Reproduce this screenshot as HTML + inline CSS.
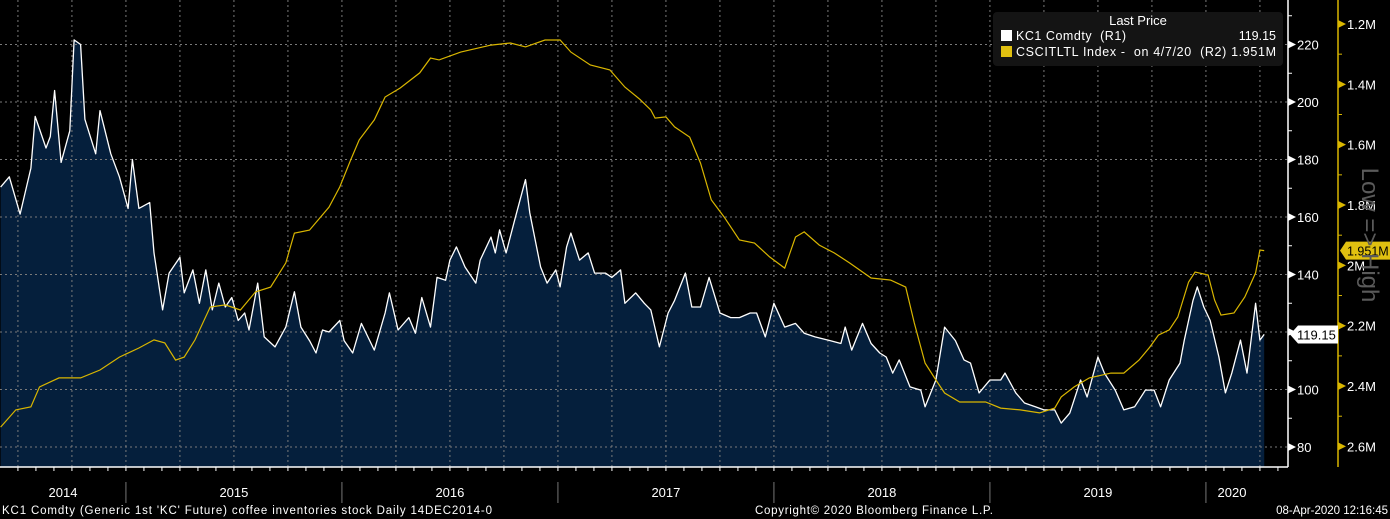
<!DOCTYPE html>
<html><head><meta charset="utf-8">
<style>
html,body{margin:0;padding:0;background:#000;width:1390px;height:519px;overflow:hidden}
svg{display:block;font-family:"Liberation Sans",sans-serif}
</style></head>
<body>
<svg id="chart" width="1390" height="519" xmlns="http://www.w3.org/2000/svg">
<rect x="0" y="0" width="1390" height="519" fill="#000"/>
<g id="grid"></g>
<g id="series"></g>
<g id="axes"></g>
<g id="legend">
 <rect x="993" y="12" width="290" height="54" rx="4" fill="#141414"/>
 <text x="1138" y="25" fill="#fff" font-size="13" text-anchor="middle">Last Price</text>
 <rect x="1001" y="30" width="11" height="11" fill="#fff"/>
 <text x="1016" y="40" fill="#fff" font-size="12.5" xml:space="preserve" textLength="110">KC1 Comdty  (R1)</text>
 <text x="1276" y="40" fill="#fff" font-size="12.5" text-anchor="end">119.15</text>
 <rect x="1001" y="46" width="11" height="11" fill="#e0c010"/>
 <text x="1016" y="56" fill="#fff" font-size="12.5" xml:space="preserve" textLength="260">CSCITLTL Index -  on 4/7/20  (R2) 1.951M</text>
</g>
<text x="0" y="0" transform="translate(1362,235) rotate(90)" fill="#5a5a5a" font-size="24" text-anchor="middle">Low =&gt; High</text>
<g id="footer">
 <text x="2" y="514" fill="#fff" font-size="11.5" textLength="490">KC1 Comdty (Generic 1st 'KC' Future) coffee inventories stock  Daily 14DEC2014-0</text>
 <text x="755" y="514" fill="#fff" font-size="11.5" textLength="238">Copyright© 2020 Bloomberg Finance L.P.</text>
 <text x="1388" y="514" fill="#fff" font-size="11.5" text-anchor="end">08-Apr-2020 12:16:45</text>
</g>
</svg>
<script>
// KC1 Comdty price (R1), dates as decimal years
const kcDates=[2014.42,2014.46,2014.51,2014.56,2014.58,2014.63,2014.65,2014.67,2014.70,2014.74,2014.76,2014.79,2014.81,2014.86,2014.88,2014.93,2014.97,2015.01,2015.03,2015.06,2015.11,2015.13,2015.17,2015.20,2015.25,2015.27,2015.31,2015.34,2015.37,2015.40,2015.43,2015.46,2015.49,2015.52,2015.55,2015.57,2015.61,2015.64,2015.69,2015.74,2015.78,2015.81,2015.85,2015.88,2015.91,2015.94,2015.99,2016.01,2016.05,2016.09,2016.15,2016.20,2016.22,2016.26,2016.31,2016.34,2016.37,2016.41,2016.44,2016.48,2016.50,2016.53,2016.57,2016.62,2016.64,2016.69,2016.71,2016.73,2016.76,2016.80,2016.85,2016.87,2016.92,2016.95,2016.99,2017.01,2017.04,2017.06,2017.10,2017.14,2017.17,2017.22,2017.25,2017.29,2017.31,2017.36,2017.40,2017.43,2017.47,2017.51,2017.54,2017.59,2017.62,2017.66,2017.70,2017.75,2017.80,2017.84,2017.89,2017.92,2017.96,2018.00,2018.05,2018.10,2018.14,2018.19,2018.26,2018.31,2018.33,2018.36,2018.41,2018.45,2018.49,2018.52,2018.55,2018.58,2018.63,2018.68,2018.70,2018.75,2018.79,2018.84,2018.88,2018.91,2018.95,2019.00,2019.05,2019.07,2019.12,2019.16,2019.21,2019.25,2019.30,2019.33,2019.37,2019.42,2019.45,2019.50,2019.53,2019.58,2019.62,2019.67,2019.72,2019.76,2019.79,2019.83,2019.88,2019.90,2019.94,2019.96,2019.99,2020.02,2020.06,2020.09,2020.12,2020.16,2020.19,2020.23,2020.25,2020.27];
const kcValues=[170.4,174,161,177,195,184,188,204,179,190,221.6,220,194,182,197,182,174,163,180,163,165,147.5,127.7,140.5,146,133.6,141.6,130,141.6,127.7,137,128.7,132,124,126.6,120.7,137,118.3,114.8,121.7,134,121.7,117,112.7,120.7,120,124,117,112.7,123,113.7,126.6,133.6,120.7,125,119.6,132,121.7,139,138,145,149.6,142.6,137,145,153,147.5,155.5,147.5,159,173,161.4,142.6,137,141.6,135.7,149.6,154.4,145,147.5,140.5,140.5,139,141.6,130,133.6,130,127.7,114.8,126.6,131,140.5,128.7,128.7,139,126.6,125,125,126.6,126.6,118.3,130,121.7,123,119.6,118.3,117,116,121.7,113.7,123,116,112.7,111.3,105.7,110.3,100.9,99.8,94,103.3,121.7,117,110.3,109.2,98.8,103.3,103.3,105.7,98.8,95.3,94,92.9,92.9,88.3,91.8,103.3,97.4,111.3,105.7,99.8,92.9,94,99.8,99.8,94,103.3,109.2,117.2,131,135.7,128.7,124,111.3,98.8,105.7,117.2,105.7,130,117.2,119.15];
// CSCITLTL coffee inventories (R2, millions, inverted axis)
const invDates=[2014.42,2014.49,2014.56,2014.60,2014.69,2014.79,2014.88,2014.97,2015.06,2015.13,2015.18,2015.23,2015.27,2015.32,2015.39,2015.46,2015.53,2015.60,2015.67,2015.74,2015.78,2015.85,2015.94,2015.99,2016.04,2016.08,2016.15,2016.20,2016.27,2016.36,2016.41,2016.45,2016.55,2016.69,2016.78,2016.85,2016.94,2017.01,2017.06,2017.15,2017.24,2017.31,2017.38,2017.43,2017.45,2017.50,2017.54,2017.61,2017.66,2017.71,2017.77,2017.84,2017.91,2017.98,2018.05,2018.10,2018.14,2018.21,2018.28,2018.35,2018.45,2018.54,2018.61,2018.65,2018.70,2018.75,2018.79,2018.86,2018.98,2019.05,2019.14,2019.23,2019.30,2019.33,2019.39,2019.46,2019.56,2019.62,2019.69,2019.74,2019.78,2019.83,2019.87,2019.92,2019.95,2020.01,2020.04,2020.07,2020.13,2020.18,2020.23,2020.25,2020.27];
const invValues=[2.536,2.479,2.469,2.403,2.373,2.373,2.347,2.304,2.274,2.247,2.257,2.314,2.304,2.247,2.138,2.131,2.148,2.088,2.072,1.992,1.893,1.883,1.807,1.740,1.651,1.584,1.518,1.442,1.412,1.362,1.313,1.319,1.293,1.270,1.263,1.276,1.253,1.253,1.293,1.336,1.352,1.409,1.45,1.485,1.512,1.508,1.541,1.575,1.661,1.783,1.840,1.916,1.926,1.972,2.009,1.906,1.889,1.933,1.959,1.992,2.042,2.049,2.072,2.191,2.324,2.380,2.423,2.453,2.453,2.473,2.479,2.489,2.473,2.436,2.403,2.373,2.357,2.357,2.314,2.271,2.231,2.214,2.171,2.055,2.022,2.032,2.115,2.165,2.158,2.105,2.025,1.949,1.951];
const r1Ticks=[80,100,120,140,160,180,200,220];
const r2Ticks=[1.2,1.4,1.6,1.8,2.0,2.2,2.4,2.6];
const r2Labels=["1.2M","1.4M","1.6M","1.8M","2M","2.2M","2.4M","2.6M"];
const yearLabels=["2014","2015","2016","2017","2018","2019","2020"];
const yearStarts=[2014,2015,2016,2017,2018,2019,2020];

const NS="http://www.w3.org/2000/svg";
const PX_PER_YEAR=216, X_ORIGIN_T=2014.417, PLOT_R=1288, PLOT_B=467;
const xs=t=>(t-X_ORIGIN_T)*PX_PER_YEAR;
const y1=v=>447-(v-80)*2.875;
const y2=m=>24+(m-1.2)*301.7;
function mk(tag,attrs,parent){const e=document.createElementNS(NS,tag);for(const k in attrs)e.setAttribute(k,attrs[k]);parent.appendChild(e);return e;}
const grid=document.getElementById('grid'),ser=document.getElementById('series'),ax=document.getElementById('axes');

let pts=kcDates.map((d,i)=>xs(d).toFixed(1)+","+y1(kcValues[i]).toFixed(1));
const area=mk('path',{d:"M"+xs(kcDates[0])+","+PLOT_B+" L"+pts.join(" L")+" L"+xs(kcDates[kcDates.length-1])+","+PLOT_B+" Z",fill:"#051f3c"},ser);



for(let q=2014.5;q<2020.3;q+=0.25){const x=xs(q);const l=mk('line',{x1:x,y1:0,x2:x,y2:PLOT_B,stroke:"#7a7a7a","stroke-width":1,"stroke-dasharray":"2,3"},ser);

}
r1Ticks.forEach(v=>{const l=mk('line',{x1:0,y1:y1(v),x2:PLOT_R,y2:y1(v),stroke:"#7a7a7a","stroke-width":1,"stroke-dasharray":"2,3"},ser);

});

const kcLine=mk('polyline',{points:pts.join(" "),fill:"none",stroke:"#fff","stroke-width":1.3,"stroke-linejoin":"round"},ser);


const invPts=invDates.map((d,i)=>xs(d).toFixed(1)+","+y2(invValues[i]).toFixed(1));
const invLine=mk('polyline',{points:invPts.join(" "),fill:"none",stroke:"#d9b600","stroke-width":1.2},ser);



mk('line',{x1:PLOT_R,y1:0,x2:PLOT_R,y2:PLOT_B,stroke:"#fff","stroke-width":1.5},ax);
mk('line',{x1:0,y1:PLOT_B,x2:PLOT_R,y2:PLOT_B,stroke:"#fff","stroke-width":1.5},ax);
mk('line',{x1:1338,y1:0,x2:1338,y2:PLOT_B,stroke:"#d9b600","stroke-width":1.5},ax);
for(let v=70;v<=230;v+=10){if(y1(v)<0||y1(v)>PLOT_B)continue;mk('line',{x1:PLOT_R,y1:y1(v),x2:PLOT_R+4,y2:y1(v),stroke:"#fff"},ax);}
r1Ticks.forEach(v=>{const y=y1(v);
 mk('path',{d:`M${PLOT_R} ${y-4} L${PLOT_R+8} ${y} L${PLOT_R} ${y+4} Z`,fill:"#fff"},ax);
 const t=mk('text',{x:PLOT_R+9,y:y+5,fill:"#fff","font-size":13},ax);t.textContent=v;
 
 });
for(let m=1.1;m<=2.75;m+=0.1){const y=y2(m);if(y<0||y>PLOT_B)continue;mk('line',{x1:1338,y1:y,x2:1342,y2:y,stroke:"#d9b600"},ax);}
r2Ticks.forEach((m,i)=>{const y=y2(m);
 mk('path',{d:`M1338 ${y-4} L1346 ${y} L1338 ${y+4} Z`,fill:"#d9b600"},ax);
 const t=mk('text',{x:1347,y:y+5,fill:"#fff","font-size":13},ax);t.textContent=r2Labels[i];
 
 });
for(let mth=2014.5;mth<2020.45;mth+=1/12){const x=xs(mth);if(x<0||x>PLOT_R)continue;mk('line',{x1:x,y1:PLOT_B,x2:x,y2:PLOT_B+4,stroke:"#fff"},ax);}
yearStarts.forEach((yr,i)=>{const x0=Math.max(0,xs(yr));const x1=Math.min(PLOT_R,xs(yr+1));
 if(xs(yr)>0){const d=mk('line',{x1:xs(yr),y1:482,x2:xs(yr),y2:503,stroke:"#777"},ax);
 
 }
 const cx=yr===2020?1232:(x0+x1)/2;
 const t=mk('text',{x:cx,y:497,fill:"#fff","font-size":13,"text-anchor":"middle"},ax);t.textContent=yearLabels[i];
 
 });

const ly=y1(kcValues[kcValues.length-1]);
const tag1=mk('path',{d:`M1290 ${ly} L1298 ${ly-9} L1338 ${ly-9} L1338 ${ly+9} L1298 ${ly+9} Z`,fill:"#fff"},ax);


const tt1=mk('text',{x:1297,y:ly+5,fill:"#000","font-size":13},ax);tt1.textContent="119.15";


const ry=y2(invValues[invValues.length-1]);
const tag2=mk('path',{d:`M1340 ${ry} L1346 ${ry-9} L1390 ${ry-9} L1390 ${ry+9} L1346 ${ry+9} Z`,fill:"#e0c010"},ax);


const tt2=mk('text',{x:1347,y:ry+5,fill:"#000","font-size":12.5},ax);tt2.textContent="1.951M";


</script>
</body></html>
